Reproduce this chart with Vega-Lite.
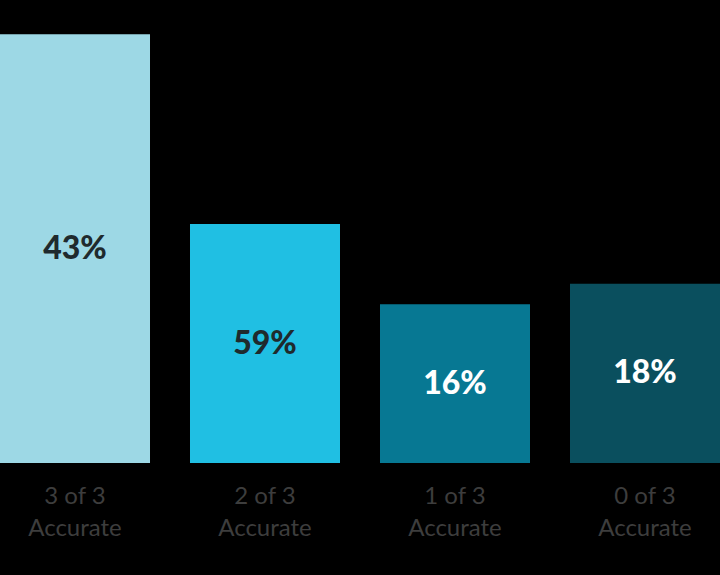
{
  "$schema": "https://vega.github.io/schema/vega-lite/v6.json",
  "width": 720,
  "height": 463,
  "padding": {"top": 0, "left": 0, "right": 0, "bottom": 112},
  "autosize": {"type": "none"},
  "background": "black",
  "data": {
    "values": [
      {"category": "3 of 3 Accurate", "value": 92.6, "label": "43%", "color": "#9dd8e5", "textColor": "#1f2a2d"},
      {"category": "2 of 3 Accurate", "value": 51.6, "label": "59%", "color": "#20bfe3", "textColor": "#1f2a2d"},
      {"category": "1 of 3 Accurate", "value": 34.3, "label": "16%", "color": "#077893", "textColor": "white"},
      {"category": "0 of 3 Accurate", "value": 38.7, "label": "18%", "color": "#0a4f5e", "textColor": "white"}
    ]
  },
  "transform": [{"calculate": "datum.value / 2", "as": "mid"}],
  "encoding": {
    "x": {
      "field": "category",
      "type": "nominal",
      "sort": null,
      "scale": {"paddingInner": 0.2105, "paddingOuter": 0},
      "axis": {
        "title": null,
        "labelAngle": 0,
        "ticks": false,
        "domain": false,
        "labelFont": "Lato",
        "labelFontSize": 24,
        "labelColor": "#3d3d3d",
        "labelPadding": 33,
        "labelLineHeight": 32,
        "labelBaseline": "middle",
        "labelExpr": "[slice(datum.label, 0, 6), slice(datum.label, 7)]"
      }
    }
  },
  "layer": [
    {
      "mark": {"type": "bar"},
      "encoding": {
        "y": {"field": "value", "type": "quantitative", "scale": {"domain": [0, 100]}, "axis": null},
        "color": {"field": "color", "type": "nominal", "scale": null}
      }
    },
    {
      "mark": {"type": "text", "font": "Lato", "fontSize": 32, "fontWeight": 900, "baseline": "middle"},
      "encoding": {
        "y": {"field": "mid", "type": "quantitative", "scale": {"domain": [0, 100]}, "axis": null},
        "text": {"field": "label"},
        "color": {"field": "textColor", "type": "nominal", "scale": null}
      }
    }
  ],
  "config": {"view": {"stroke": null}}
}
